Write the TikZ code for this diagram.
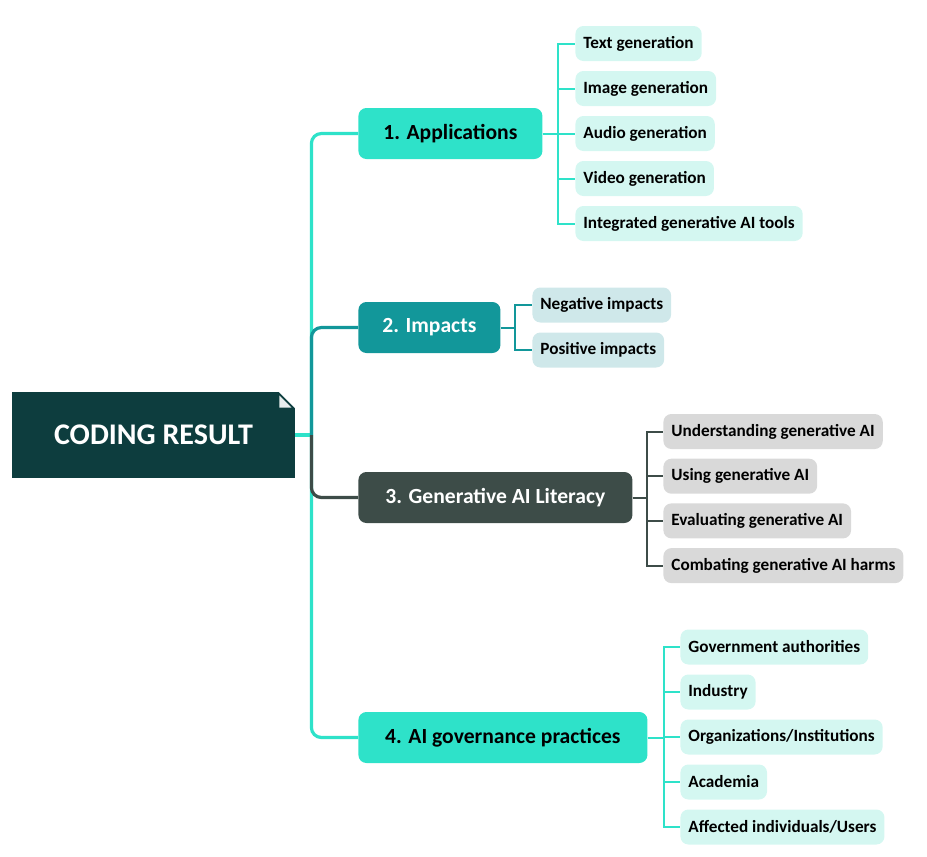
\documentclass[tikz,border=0pt]{standalone}
\usepackage{fontspec}
\setmainfont{Carlito}
\usetikzlibrary{positioning}
\definecolor{rootcol}{HTML}{0D3D3E}
\definecolor{mint}{HTML}{2EE2C9}
\definecolor{teal}{HTML}{12979A}
\definecolor{slate}{HTML}{3D4C48}
\definecolor{leafmint}{HTML}{D4F7F1}
\definecolor{leafteal}{HTML}{CFE8EA}
\definecolor{leafgray}{HTML}{D9D9D9}
\definecolor{foldcol}{HTML}{E8EDED}
\tikzset{
  root/.style={fill=rootcol, text=white, font=\fontsize{15}{17}\selectfont\bfseries,
    minimum width=141.5pt, minimum height=43pt, inner sep=0pt},
  topic/.style={rounded corners=4pt, font=\fontsize{10.8}{12}\selectfont\bfseries,
    minimum height=25.5pt, inner sep=0pt, anchor=west},
  leaf/.style={rounded corners=4pt, font=\fontsize{8.6}{10}\selectfont\bfseries,
    minimum height=17.5pt, inner xsep=4pt, inner ysep=0pt, anchor=west},
  trunk/.style={line width=1.6pt, rounded corners=5pt},
  twig/.style={line width=1pt},
}
\begin{document}
\begin{tikzpicture}[x=0.5pt,y=-0.5pt]
\useasboundingbox (0,0) rectangle (927,857);
% root with folded corner
\node[root] (res) at (153.5,435) {CODING RESULT};
\fill[white] ([xshift=-8.5pt]res.north east) -- (res.north east) -- ([yshift=-8.5pt]res.north east) -- cycle;
\fill[foldcol] ([xshift=-8pt,yshift=-2pt]res.north east) -- ([xshift=-2pt,yshift=-8pt]res.north east) -- ([xshift=-8pt,yshift=-8pt]res.north east) -- cycle;
\coordinate (hub) at ([xshift=8pt]res.east);
% main topics
\node[topic, fill=mint, minimum width=92pt] (app) at (358,133.5) {1. Applications};
\node[topic, fill=teal, text=white, minimum width=71pt] (imp) at (358,327.5) {2. Impacts};
\node[topic, fill=slate, text=white, minimum width=137pt] (lit) at (358,497.5) {3. Generative AI Literacy};
\node[topic, fill=mint, minimum width=144.5pt] (gov) at (358,737.5) {4. AI governance practices};
% trunk
\draw[trunk, mint] (res.east) -- (hub);
\draw[trunk, mint] (hub) |- (app.west);
\draw[trunk, mint] (hub) |- (gov.west);
\draw[trunk, teal] (hub) |- (imp.west);
\draw[trunk, slate] (hub) |- (lit.west);
% leaves
\foreach \t [count=\i] in {Text generation, Image generation, Audio generation,
  Video generation, Integrated generative AI tools}
  {\node[leaf, fill=leafmint] (app\i) at (575,{43.5+45*(\i-1)}) {\t};
   \draw[twig, mint] (app.east) -- ++(15,0) |- (app\i.west);}
\foreach \t [count=\i] in {Negative impacts, Positive impacts}
  {\node[leaf, fill=leafteal] (imp\i) at (532,{305+45*(\i-1)}) {\t};
   \draw[twig, teal] (imp.east) -- ++(14,0) |- (imp\i.west);}
\foreach \t [count=\i] in {Understanding generative AI, Using generative AI,
  Evaluating generative AI, Combating generative AI harms}
  {\node[leaf, fill=leafgray] (lit\i) at (663,{431.5+44.7*(\i-1)}) {\t};
   \draw[twig, slate] (lit.east) -- ++(14,0) |- (lit\i.west);}
\foreach \t [count=\i] in {Government authorities, Industry, Organizations/Institutions,
  Academia, Affected individuals/Users}
  {\node[leaf, fill=leafmint] (gov\i) at (680,{647+45*(\i-1)}) {\t};
   \draw[twig, mint] (gov.east) -- ++(16,0) |- (gov\i.west);}
\end{tikzpicture}
\end{document}
